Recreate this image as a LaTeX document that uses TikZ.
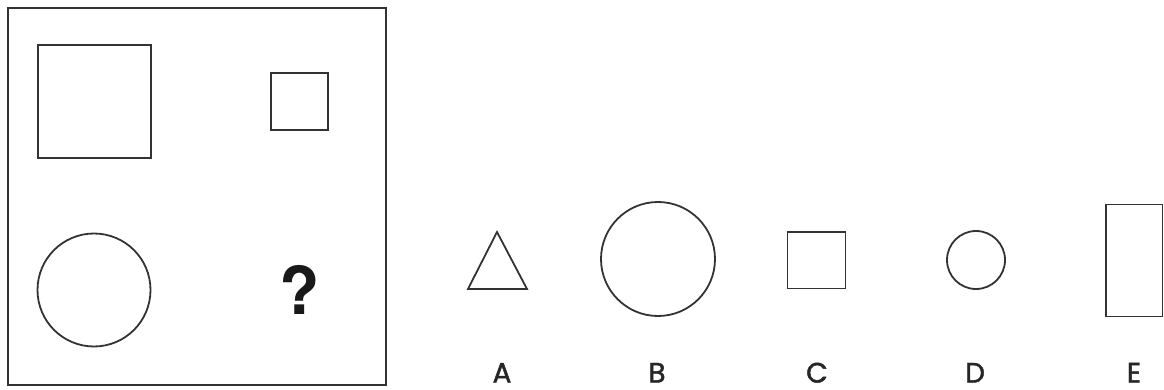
\documentclass[tikz,border=0pt]{standalone}
\usepackage{fontspec}
\newfontfamily\labfont[UprightFeatures={FakeBold=1.6}]{Poppins}
\newfontfamily\qfont{TeX Gyre Heros}
\tikzset{
  shapeline/.style={draw=black!80, line width=1.8pt},
  label/.style={font=\labfont\fontsize{28}{28}\selectfont, text=black!85, anchor=base, inner sep=0pt},
}
\begin{document}
\begin{tikzpicture}[x=1pt,y=-1pt]
\useasboundingbox (0,0) rectangle (1164,390);
% frame
\draw[shapeline] (8,8) rectangle (386,385);
% matrix shapes
\draw[shapeline] (38,45) rectangle (151,158);
\draw[shapeline] (271,73) rectangle (328,130);
\draw[shapeline] (94,290) circle[radius=56.5];
\node[inner sep=0pt, anchor=base, text=black!90, font=\qfont\bfseries\fontsize{66}{66}\selectfont] (q) at (299.5,314.5) {?};
% options
\draw[shapeline] (497,232) -- (527,289) -- (468,289) -- cycle;
\draw[shapeline] (658,259) circle[radius=57];
\draw[shapeline] (787.5,232) rectangle (845.5,288.5);
\draw[shapeline] (976,260) circle[radius=29];
\draw[shapeline] (1106,204.5) rectangle (1162.5,316.5);
% labels
\node[label] (la) at (502,382.5) {A};
\node[label] (lb) at (657,382.5) {B};
\node[label] (lc) at (817,382.5) {C};
\node[label] (ld) at (975,382.5) {D};
\node[label] (le) at (1134,382.5) {E};
\end{tikzpicture}
\end{document}
